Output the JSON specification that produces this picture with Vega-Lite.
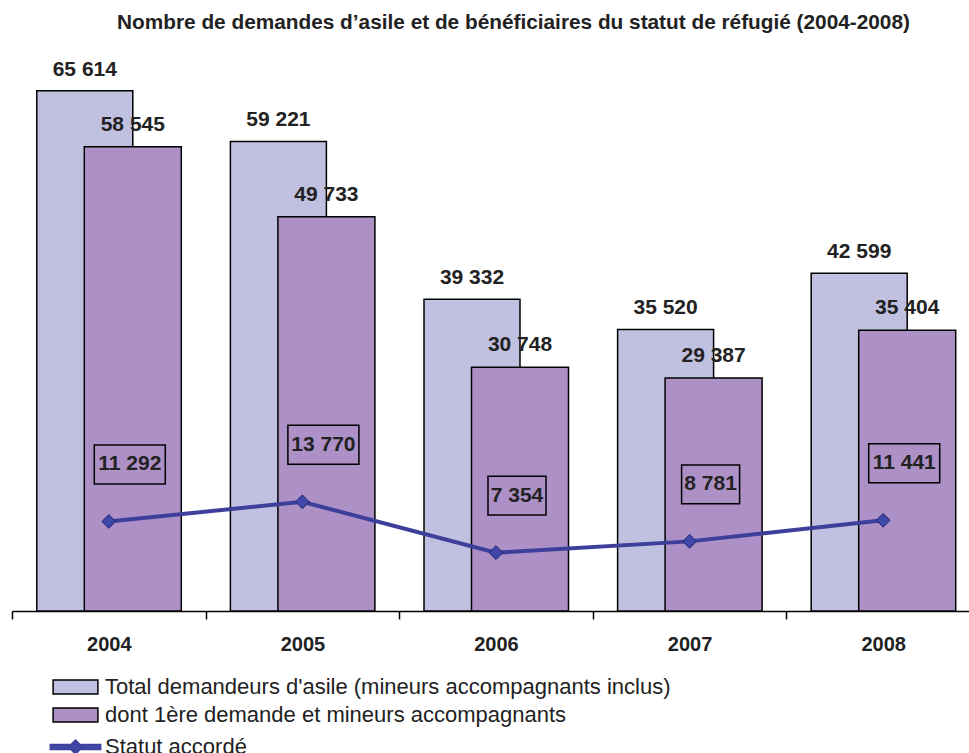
{
  "$schema": "https://vega.github.io/schema/vega-lite/v6.json",
  "autosize": {"type": "none"},
  "width": 957,
  "height": 555,
  "padding": {"left": 12, "top": 56, "right": 0, "bottom": 142},
  "background": "white",
  "config": {
    "view": {"stroke": null},
    "font": "Liberation Sans",
    "locale": {"number": {"decimal": ",", "thousands": " ", "grouping": [3], "currency": ["", " €"]}}
  },
  "title": {
    "text": "Nombre de demandes d’asile et de bénéficiaires du statut de réfugié (2004-2008)",
    "font": "Liberation Sans",
    "fontSize": 20.8,
    "fontWeight": "bold",
    "color": "#222222",
    "anchor": "middle",
    "dx": 23,
    "baseline": "alphabetic",
    "offset": 6
  },
  "data": {
    "values": [
      {"year": "2004", "series": "Total demandeurs d'asile (mineurs accompagnants inclus)", "value": 65614},
      {"year": "2005", "series": "Total demandeurs d'asile (mineurs accompagnants inclus)", "value": 59221},
      {"year": "2006", "series": "Total demandeurs d'asile (mineurs accompagnants inclus)", "value": 39332},
      {"year": "2007", "series": "Total demandeurs d'asile (mineurs accompagnants inclus)", "value": 35520},
      {"year": "2008", "series": "Total demandeurs d'asile (mineurs accompagnants inclus)", "value": 42599},
      {"year": "2004", "series": "dont 1ère demande et mineurs accompagnants", "value": 58545},
      {"year": "2005", "series": "dont 1ère demande et mineurs accompagnants", "value": 49733},
      {"year": "2006", "series": "dont 1ère demande et mineurs accompagnants", "value": 30748},
      {"year": "2007", "series": "dont 1ère demande et mineurs accompagnants", "value": 29387},
      {"year": "2008", "series": "dont 1ère demande et mineurs accompagnants", "value": 35404},
      {"year": "2004", "series": "Statut accordé", "value": 11292},
      {"year": "2005", "series": "Statut accordé", "value": 13770},
      {"year": "2006", "series": "Statut accordé", "value": 7354},
      {"year": "2007", "series": "Statut accordé", "value": 8781},
      {"year": "2008", "series": "Statut accordé", "value": 11441}
    ]
  },
  "encoding": {
    "x": {
      "field": "year",
      "type": "nominal",
      "sort": null,
      "title": null,
      "scale": {"range": [0, 968], "paddingInner": 0, "paddingOuter": 0},
      "axis": {
        "tickBand": "extent",
        "domainColor": "black",
        "domainWidth": 1.5,
        "tickColor": "black",
        "tickWidth": 1.5,
        "tickSize": 8,
        "labelAngle": 0,
        "labelFont": "Liberation Sans",
        "labelFontSize": 20,
        "labelFontWeight": "bold",
        "labelColor": "#222222",
        "labelPadding": 15
      }
    },
    "y": {
      "field": "value",
      "type": "quantitative",
      "scale": {"domain": [0, 70000], "nice": false},
      "axis": null
    }
  },
  "layer": [
    {
      "transform": [{"filter": "datum.series === \"Total demandeurs d'asile (mineurs accompagnants inclus)\""}],
      "mark": {"type": "bar", "width": 96, "xOffset": -24, "stroke": "black", "strokeWidth": 1.5},
      "encoding": {
        "fill": {
          "field": "series",
          "type": "nominal",
          "scale": {
            "domain": ["Total demandeurs d'asile (mineurs accompagnants inclus)", "dont 1ère demande et mineurs accompagnants"],
            "range": ["#C0C0E0", "#AD90C6"]
          },
          "legend": {
            "orient": "none",
            "legendX": 52.5,
            "legendY": 620,
            "title": null,
            "padding": 0,
            "direction": "vertical",
            "symbolType": "M-3.2,-1L3.2,-1L3.2,1L-3.2,1Z",
            "symbolSize": 196,
            "symbolOffset": 0,
            "symbolStrokeColor": "black",
            "symbolStrokeWidth": 1.5,
            "labelOffset": 18.5,
            "rowPadding": 6,
            "labelFont": "Liberation Sans",
            "labelFontSize": 22,
            "labelColor": "#222222",
            "labelLimit": 800
          }
        }
      }
    },
    {
      "transform": [{"filter": "datum.series === 'dont 1ère demande et mineurs accompagnants'"}],
      "mark": {"type": "bar", "width": 97, "xOffset": 24, "stroke": "black", "strokeWidth": 1.5},
      "encoding": {"fill": {"field": "series", "type": "nominal"}}
    },
    {
      "transform": [{"filter": "datum.series === \"Total demandeurs d'asile (mineurs accompagnants inclus)\""}],
      "mark": {"type": "text", "dx": -24, "dy": -15, "baseline": "alphabetic", "font": "Liberation Sans", "fontSize": 21, "fontWeight": "bold", "color": "#222222"},
      "encoding": {"text": {"field": "value", "type": "quantitative", "format": ","}}
    },
    {
      "transform": [{"filter": "datum.series === 'dont 1ère demande et mineurs accompagnants'"}],
      "mark": {"type": "text", "dx": 24, "dy": -16, "baseline": "alphabetic", "font": "Liberation Sans", "fontSize": 21, "fontWeight": "bold", "color": "#222222"},
      "encoding": {"text": {"field": "value", "type": "quantitative", "format": ","}}
    },
    {
      "transform": [{"filter": "datum.series === 'Statut accordé'"}],
      "mark": {"type": "line", "strokeWidth": 4},
      "encoding": {
        "stroke": {
          "field": "series",
          "type": "nominal",
          "scale": {"domain": ["Statut accordé"], "range": ["#3D3F9B"]},
          "legend": {
            "orient": "none",
            "legendX": 52.5,
            "legendY": 680,
            "title": null,
            "padding": 0,
            "symbolType": "M-3.6,-0.35L3.6,-0.35L3.6,0.35L-3.6,0.35Z M0,-1L1,0L0,1L-1,0Z",
            "symbolSize": 196,
            "symbolOffset": 0,
            "symbolFillColor": "#3F48A8",
            "symbolStrokeWidth": 1.5,
            "labelOffset": 18.5,
            "labelFont": "Liberation Sans",
            "labelFontSize": 22,
            "labelColor": "#222222",
            "labelLimit": 800
          }
        }
      }
    },
    {
      "transform": [{"filter": "datum.series === 'Statut accordé'"}],
      "mark": {"type": "point", "shape": "diamond", "size": 190, "filled": true, "fill": "#3F48A8", "stroke": "#22266e", "strokeWidth": 1, "opacity": 1}
    },
    {
      "transform": [{"filter": "datum.series === 'Statut accordé' && datum.value >= 10000"}],
      "mark": {"type": "point", "shape": "M-1,-0.55L1,-0.55L1,0.55L-1,0.55Z", "size": 5041, "filled": false, "stroke": "black", "strokeWidth": 1.5, "opacity": 1, "xOffset": 21, "yOffset": -57}
    },
    {
      "transform": [{"filter": "datum.series === 'Statut accordé' && datum.value < 10000"}],
      "mark": {"type": "point", "shape": "M-1,-0.67L1,-0.67L1,0.67L-1,0.67Z", "size": 3364, "filled": false, "stroke": "black", "strokeWidth": 1.5, "opacity": 1, "xOffset": 21, "yOffset": -57}
    },
    {
      "transform": [{"filter": "datum.series === 'Statut accordé'"}],
      "mark": {"type": "text", "dx": 21, "dy": -57, "baseline": "middle", "font": "Liberation Sans", "fontSize": 21, "fontWeight": "bold", "color": "#222222"},
      "encoding": {"text": {"field": "value", "type": "quantitative", "format": ","}}
    }
  ]
}
